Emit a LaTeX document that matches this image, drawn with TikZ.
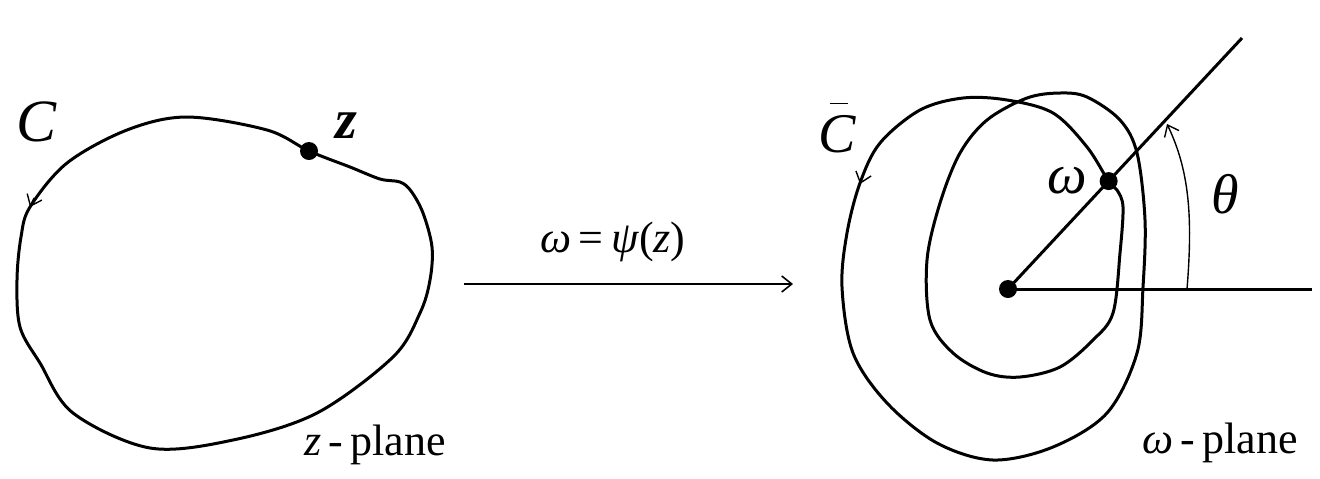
\documentclass[tikz,border=0pt]{standalone}
\usepackage{fontspec}
\setmainfont{Liberation Serif}
\usetikzlibrary{arrows.meta,calc}

\begin{document}
\begin{tikzpicture}
      [x=0.5pt, y=-0.5pt, font=\fontsize{22}{26}\selectfont,
       curve/.style={line width=1.5pt},
       dot/.style={circle,fill=black,inner sep=0pt,minimum size=9pt},
       big/.style={font=\fontsize{28}{32}\selectfont\itshape},
       tip/.style={-{Straight Barb[length=5pt,width=8pt]}}]
      \useasboundingbox (0,0) rectangle (1320,478);

      % z-plane
      \draw[curve] plot[smooth cycle, tension=0.55] coordinates {
        (309,151) (350,167) (380,179) (400,182) (411,191) (423,213)
        (432,247) (430,280) (420,313) (393,357) (317,413) (233,440)
        (150,448) (73,413) (40,363) (20,327) (17,280) (21,237)
        (30,207) (67,163) (127,130) (187,117) (267,130)};
      \draw[tip, line width=0.7pt] (34,198) -- (30,207);
      \node[dot] (z) at (309,151) {};
      \node[big] (zlab) at (346,126) {\bfseries z};
      \node[big, font=\fontsize{30}{34}\selectfont\itshape] (Clab) at (37,122) {C};
      \node (zpl) at (375,445) {\textit{z}\,-\,plane};

      % the map
      \coordinate (mapl) at (464,284);
      \coordinate (mapr) at (793,284);
      \draw[tip, line width=0.8pt] (mapl) -- (mapr);
      \node (map) at (613,242) {\textit{ω}\,=\,\textit{ψ}(\textit{z})};

      % omega-plane
      \coordinate (O) at (1008,289);
      \coordinate (rayend) at (1242,38);
      \coordinate (axend) at (1312,289);
      \draw[curve] plot[smooth cycle, tension=0.55] coordinates {
        (1109,182) (1087,147) (1053,113) (1007,100) (963,98) (920,110)
        (880,143) (860,183) (847,233) (842,287) (853,353) (887,403)
        (937,443) (993,460) (1053,447) (1107,413) (1137,353) (1143,287)
        (1145,220) (1137,153) (1120,120) (1087,97) (1060,93) (1027,98)
        (987,120) (960,153) (940,203) (927,260) (930,320) (953,353)
        (987,373) (1020,377) (1060,367) (1093,340) (1113,313) (1120,253)
        (1123,207) (1117,190)};
      \draw[tip, line width=0.7pt] (863,175) -- (860,184);
      \draw[curve] (O) -- (rayend);
      \draw[curve] (O) -- (axend);
      \node[dot] (o) at (O) {};
      \node[dot] (w) at ($(O)!0.43!(rayend)$) {};
      \draw[tip, line width=0.7pt] (1187,289) .. controls (1193,215) and (1189,170) .. (1167,124);
      \node[big] (wlab) at (1067,181) {ω};
      \node[big] (thlab) at (1225,194) {θ};
      \node[big, anchor=base] (Cblab) at (837,152)
        {C\llap{\raisebox{0.86em}{\rule{0.32em}{0.5pt}}\hspace{0.14em}}};
      \node (wpl) at (1220,443) {\textit{ω}\,-\,plane};
\end{tikzpicture}
\end{document}
